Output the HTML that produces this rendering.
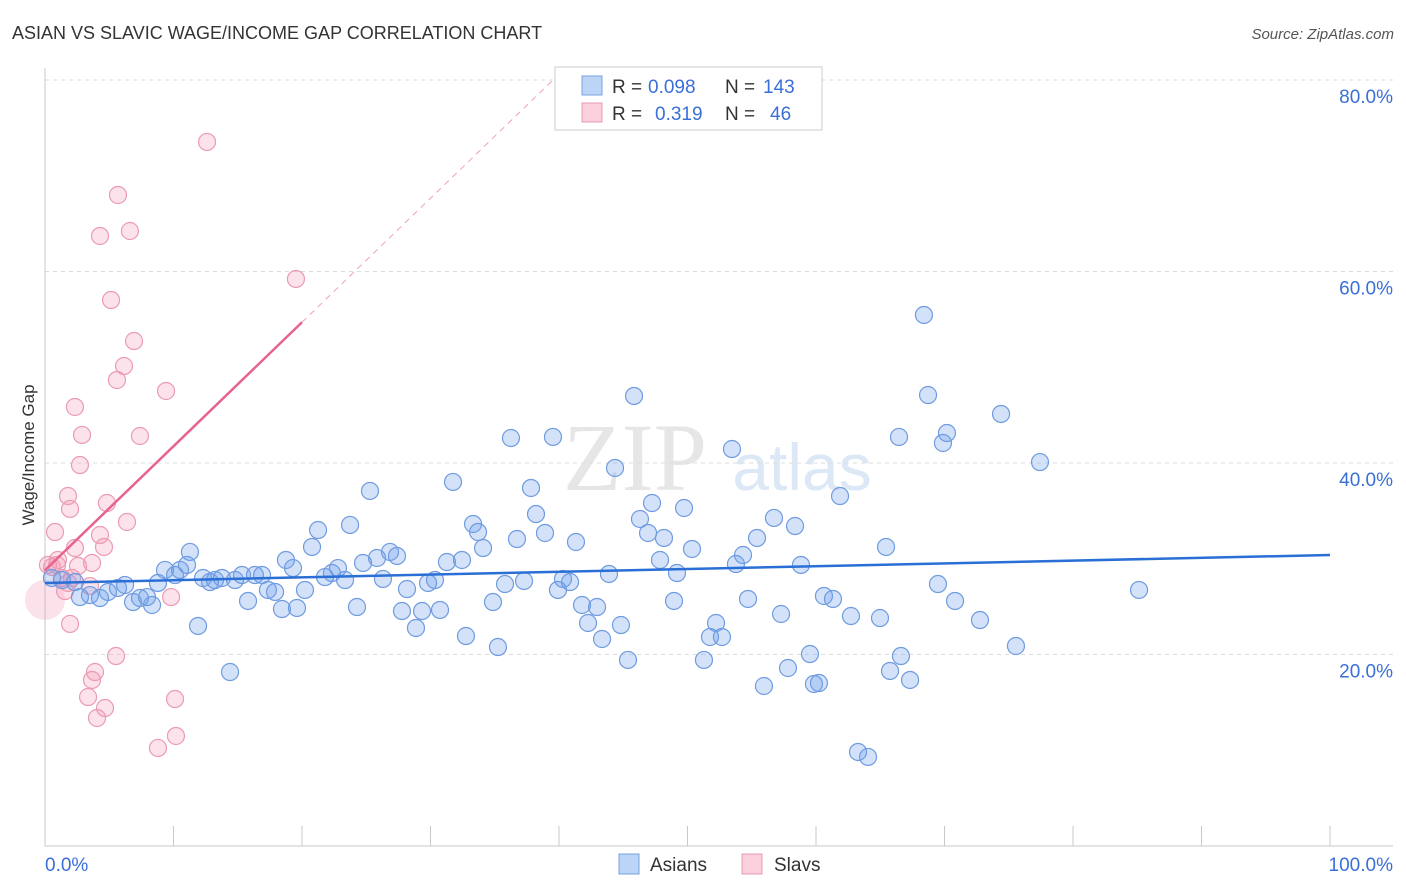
<!DOCTYPE html>
<html><head><meta charset="utf-8"><style>
body{margin:0;background:#fff;font-family:"Liberation Sans",sans-serif;}
svg{display:block}
</style></head><body>
<svg id="chart" width="1406" height="892" xmlns="http://www.w3.org/2000/svg">
<text x="12" y="39" font-size="18" fill="#333">ASIAN VS SLAVIC WAGE/INCOME GAP CORRELATION CHART</text>
<text x="1394" y="39" font-size="15" fill="#555" font-style="italic" text-anchor="end">Source: ZipAtlas.com</text>
<text x="635" y="490" font-size="96" fill="#e6e6e6" font-family="Liberation Serif,serif" text-anchor="middle">ZIP</text>
<text x="802" y="490" font-size="66" fill="#dce8f6" text-anchor="middle">atlas</text>
<g id="grid"></g>
<g id="axes"></g>
<g id="marks"></g>
<g id="lines"></g>
<text x="34" y="455" font-size="17" fill="#333" text-anchor="middle" transform="rotate(-90 34 455)">Wage/Income Gap</text>
<g>
<rect x="555" y="67" width="267" height="63" fill="#fff" stroke="#ccc"/>
<rect x="582" y="76" width="20" height="19" fill="#bcd4f5" stroke="#7aa3e0"/>
<rect x="582" y="103" width="20" height="19" fill="#fbd0dc" stroke="#eb9bb2"/>
<g font-size="19" fill="#333">
<text x="612" y="93">R =</text>
<text x="648" y="93" fill="#3a6fd8">0.098</text>
<text x="725" y="93">N =</text>
<text x="763" y="93" fill="#3a6fd8">143</text>
<text x="612" y="120">R =</text>
<text x="655" y="120" fill="#3a6fd8">0.319</text>
<text x="725" y="120">N =</text>
<text x="770" y="120" fill="#3a6fd8">46</text>
</g>
</g>
<g>
<rect x="619" y="854" width="20" height="20" fill="#bcd4f5" stroke="#7aa3e0"/>
<text x="650" y="871" font-size="19" fill="#333">Asians</text>
<rect x="742" y="854" width="20" height="20" fill="#fbd0dc" stroke="#eb9bb2"/>
<text x="774" y="871" font-size="19" fill="#333">Slavs</text>
</g>
</svg>
<script>
const yTicks=[20,40,60,80];
const yTickLabels=["20.0%","40.0%","60.0%","80.0%"];
const asianX=[0.54,1.32,2.33,2.72,3.50,4.28,4.90,5.68,6.23,6.85,7.39,7.94,8.33,8.79,9.34,10.12,10.51,11.05,11.28,11.91,12.30,12.84,13.23,13.77,14.40,14.79,15.33,15.80,16.34,16.89,17.35,17.90,18.44,18.75,19.30,19.61,20.23,20.78,21.25,21.79,22.33,22.80,23.35,23.74,24.28,24.75,25.29,25.84,26.30,26.85,27.39,27.78,28.17,28.87,29.34,29.81,30.35,30.74,31.28,31.75,32.45,32.76,33.31,33.70,34.09,34.86,35.25,35.80,36.26,36.73,37.28,37.82,38.21,38.91,39.53,39.92,40.31,40.86,41.32,41.79,42.26,42.96,43.35,43.89,44.36,44.82,45.37,45.84,46.30,46.93,47.24,47.86,48.17,48.95,49.18,49.73,50.35,51.28,51.75,52.22,52.68,53.46,53.77,54.32,54.71,55.41,55.95,56.73,57.28,57.82,58.37,58.83,59.53,59.84,60.23,60.62,61.32,61.87,62.72,64.98,65.45,65.76,66.46,66.61,67.32,68.40,68.72,69.49,69.88,70.19,70.82,72.76,74.40,75.56,77.43,85.14,63.27,64.05];
const asianY=[27.99,27.78,27.57,26.0,26.21,25.90,26.53,26.95,27.26,25.48,25.90,26.0,25.17,27.47,28.83,28.30,28.83,29.35,30.71,22.98,27.99,27.57,27.78,27.99,18.17,27.78,28.30,25.59,28.30,28.30,26.74,26.53,24.75,29.87,29.03,24.86,26.74,31.23,33.0,28.09,28.51,29.03,27.78,33.53,24.96,29.56,37.08,30.08,27.89,30.71,30.29,24.54,26.84,22.77,24.54,27.47,27.78,24.65,29.66,38.02,29.87,21.93,33.63,32.79,31.12,25.48,20.78,27.36,42.61,32.06,27.68,37.39,34.67,32.69,42.72,26.74,27.89,27.57,31.75,25.17,23.29,24.96,21.62,28.41,39.48,23.08,19.43,47.0,34.15,32.69,35.82,29.87,32.17,25.59,28.51,35.30,31.02,19.43,21.83,23.29,21.83,41.46,29.45,30.39,25.80,32.17,16.71,34.26,24.23,18.59,33.42,29.35,20.05,16.92,17.02,26.11,25.80,36.55,24.02,23.81,31.23,18.28,42.72,19.84,17.34,55.46,47.10,27.36,42.09,43.13,25.59,23.60,45.12,20.89,40.10,26.74,9.82,9.30];
const slavX=[0.23,0.54,0.93,1.32,1.79,2.10,2.33,2.57,0.78,1.01,1.56,1.95,1.79,1.95,2.33,2.88,2.72,3.50,3.66,3.89,3.66,3.35,4.05,4.67,4.28,4.82,4.59,4.28,5.14,5.53,5.68,5.60,6.15,6.38,6.61,6.93,7.39,8.79,9.42,9.81,10.12,10.19,12.61,19.53];
const slavY=[29.35,29.14,29.35,27.99,27.47,27.99,31.12,29.24,32.79,29.87,26.63,23.19,36.55,35.20,45.85,42.93,39.79,27.15,29.56,18.17,17.34,15.56,13.37,14.41,63.71,35.82,31.23,32.48,57.02,19.84,67.99,48.67,50.13,33.84,64.23,52.74,42.82,10.24,47.52,26.0,15.35,11.49,73.53,59.22];
const asianTrend=[27.47,30.39];
const slavTrend=[28.8,1.295];
const NS="http://www.w3.org/2000/svg";
const X=v=>45+v*12.85, Y=v=>846-v*9.575;
function mk(tag,attrs,parent){const e=document.createElementNS(NS,tag);for(const k in attrs)e.setAttribute(k,attrs[k]);document.getElementById(parent).appendChild(e);return e;}
yTicks.forEach((t,i)=>{
  const g=mk('line',{x1:45,x2:1393,y1:Y(t),y2:Y(t),stroke:'#ddd','stroke-dasharray':'4 4'},'grid');
  
  
  const l=mk('text',{x:1393,y:Y(t)+23,'font-size':19,fill:'#3a6fd8','text-anchor':'end'},'axes');
  l.textContent=yTickLabels[i];
  
  
});
mk('line',{x1:45,x2:45,y1:68,y2:846,stroke:'#c8c8c8'},'axes');
mk('line',{x1:45,x2:1393,y1:846,y2:846,stroke:'#c8c8c8'},'axes');
for(let i=0;i<=10;i++){const t=mk('line',{x1:X(i*10),x2:X(i*10),y1:826,y2:846,stroke:'#c8c8c8'},'axes');
  
  }
const x0=mk('text',{x:45,y:871,'font-size':19,fill:'#3a6fd8'},'axes');x0.textContent='0.0%';


const x1=mk('text',{x:1393,y:871,'font-size':19,fill:'#3a6fd8','text-anchor':'end'},'axes');x1.textContent='100.0%';


const big=mk('circle',{cx:X(0),cy:Y(25.7),r:20,fill:'rgba(240,140,170,0.25)',stroke:'none'},'marks');


slavX.forEach((v,i)=>{const c=mk('circle',{cx:X(v),cy:Y(slavY[i]),r:8.5,fill:'rgba(245,150,180,0.28)',stroke:'#eb9bb2','stroke-width':1.2},'marks');
  
  });
asianX.forEach((v,i)=>{const c=mk('circle',{cx:X(v),cy:Y(asianY[i]),r:8.5,fill:'rgba(110,160,235,0.3)',stroke:'#6f9be0','stroke-width':1.2},'marks');
  
  });
const a=mk('line',{x1:X(0),y1:Y(asianTrend[0]),x2:X(100),y2:Y(asianTrend[1]),stroke:'#2a6fd6','stroke-width':2.5},'lines');


const xe=(80-slavTrend[0])/slavTrend[1];
const sd=mk('line',{x1:X(20),y1:Y(slavTrend[0]+20*slavTrend[1]),x2:X(xe),y2:Y(80),stroke:'#f0a0b8','stroke-width':1,'stroke-dasharray':'6 5'},'lines');


const s=mk('line',{x1:X(0),y1:Y(slavTrend[0]),x2:X(20),y2:Y(slavTrend[0]+20*slavTrend[1]),stroke:'#e8628f','stroke-width':2.5},'lines');


</script>
</body></html>
